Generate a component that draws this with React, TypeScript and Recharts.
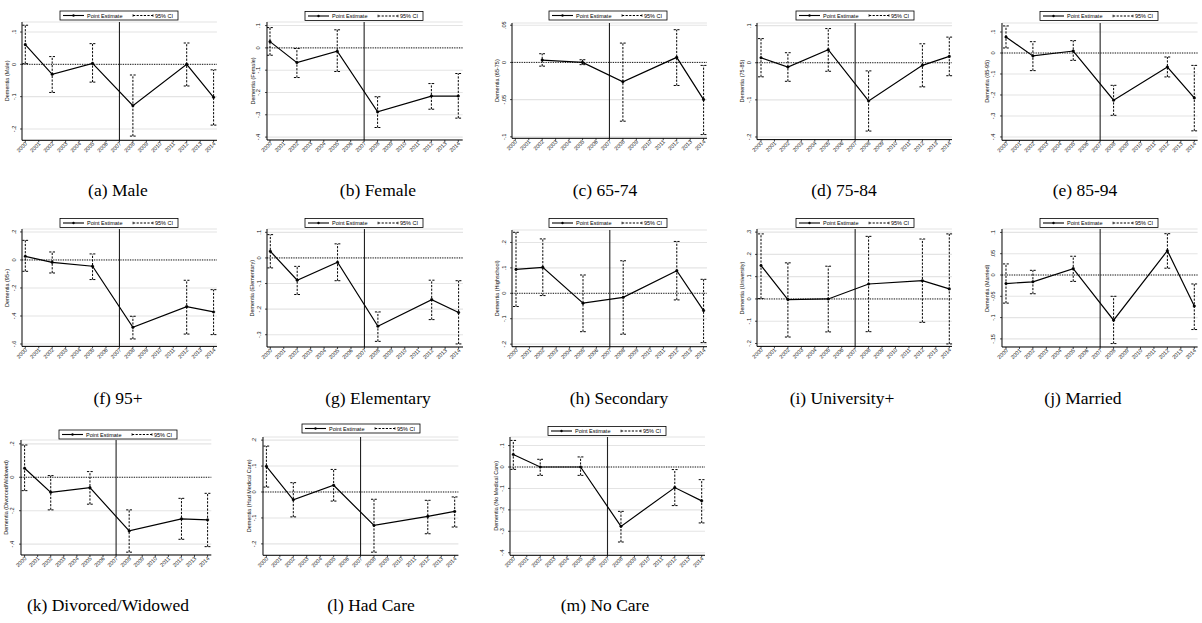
import React from 'react'
import { ComposedChart, Line, XAxis, YAxis, CartesianGrid, ReferenceLine, ErrorBar } from 'recharts'

const yearTicks = [2000, 2001, 2002, 2003, 2004, 2005, 2006, 2007, 2008, 2009, 2010, 2011, 2012, 2013, 2014]
const waves = [2000, 2002, 2005, 2008, 2012, 2014]
const wavesNo2000 = [2002, 2005, 2008, 2012, 2014]
const policyYear = 2007

const maleEst = [0.061, -0.031, 0.003, -0.128, 0.0, -0.102]
const maleLo = [0.002, -0.087, -0.055, -0.222, -0.067, -0.188]
const maleHi = [0.121, 0.024, 0.064, -0.033, 0.066, -0.017]

const femaleEst = [0.028, -0.066, -0.015, -0.287, -0.216, -0.216]
const femaleLo = [-0.033, -0.133, -0.106, -0.357, -0.275, -0.315]
const femaleHi = [0.091, -0.003, 0.081, -0.219, -0.16, -0.115]

const age6574Est = [0.0032, 0.0, -0.026, 0.0068, -0.05]
const age6574Lo = [-0.005, -0.003, -0.079, -0.031, -0.097]
const age6574Hi = [0.0117, 0.0036, 0.026, 0.044, -0.004]

const age7584Est = [0.0134, -0.0116, 0.035, -0.103, -0.007, 0.017]
const age7584Lo = [-0.038, -0.05, -0.023, -0.184, -0.065, -0.035]
const age7584Hi = [0.065, 0.027, 0.092, -0.022, 0.051, 0.069]

const age8594Est = [0.076, -0.014, 0.0095, -0.225, -0.067, -0.214]
const age8594Lo = [0.024, -0.084, -0.035, -0.297, -0.114, -0.371]
const age8594Hi = [0.129, 0.054, 0.059, -0.154, -0.019, -0.059]

const age95Est = [0.026, -0.017, -0.045, -0.481, -0.333, -0.371]
const age95Lo = [-0.081, -0.093, -0.14, -0.564, -0.529, -0.533]
const age95Hi = [0.14, 0.057, 0.043, -0.402, -0.145, -0.212]

const elemEst = [0.026, -0.087, -0.017, -0.267, -0.163, -0.213]
const elemLo = [-0.039, -0.143, -0.089, -0.326, -0.241, -0.336]
const elemHi = [0.091, -0.033, 0.055, -0.211, -0.087, -0.089]

const secEst = [0.094, 0.102, -0.039, -0.016, 0.089, -0.068]
const secLo = [-0.052, -0.009, -0.151, -0.161, -0.026, -0.194]
const secHi = [0.24, 0.214, 0.072, 0.128, 0.204, 0.055]

const uniEst = [0.15, -0.003, 0.0, 0.067, 0.082, 0.045]
const uniLo = [0.0015, -0.171, -0.148, -0.147, -0.105, -0.202]
const uniHi = [0.292, 0.162, 0.147, 0.281, 0.269, 0.292]

const marEst = [-0.02, -0.016, 0.015, -0.106, 0.057, -0.073]
const marLo = [-0.066, -0.044, -0.015, -0.161, 0.016, -0.128]
const marHi = [0.026, 0.011, 0.044, -0.05, 0.097, -0.021]

const divEst = [0.054, -0.09, -0.062, -0.321, -0.249, -0.255]
const divLo = [-0.08, -0.195, -0.161, -0.448, -0.371, -0.415]
const divHi = [0.193, 0.01, 0.034, -0.195, -0.126, -0.096]

const careEst = [0.099, -0.03, 0.026, -0.129, -0.094, -0.075]
const careLo = [0.019, -0.096, -0.035, -0.232, -0.161, -0.135]
const careHi = [0.177, 0.036, 0.087, -0.028, -0.032, -0.019]

const noCareEst = [0.058, 0.0, 0.0, -0.277, -0.096, -0.158]
const noCareLo = [-0.011, -0.039, -0.039, -0.35, -0.18, -0.261]
const noCareHi = [0.124, 0.036, 0.047, -0.207, -0.012, -0.059]

const panels = [
  { title: 'Dementia (Male)', caption: '(a) Male', waves, est: maleEst, lo: maleLo, hi: maleHi, ticks: [-0.2, -0.1, 0, 0.1], domain: [-0.235, 0.131] },
  { title: 'Dementia (Female)', caption: '(b) Female', waves, est: femaleEst, lo: femaleLo, hi: femaleHi, ticks: [-0.4, -0.3, -0.2, -0.1, 0, 0.1], domain: [-0.413, 0.116] },
  { title: 'Dementia (65-75)', caption: '(c) 65-74', waves: wavesNo2000, est: age6574Est, lo: age6574Lo, hi: age6574Hi, ticks: [-0.1, -0.05, 0, 0.05], domain: [-0.102, 0.053] },
  { title: 'Dementia (75-85)', caption: '(d) 75-84', waves, est: age7584Est, lo: age7584Lo, hi: age7584Hi, ticks: [-0.2, -0.1, 0, 0.1], domain: [-0.207, 0.107] },
  { title: 'Dementia (85-95)', caption: '(e) 85-94', waves, est: age8594Est, lo: age8594Lo, hi: age8594Hi, ticks: [-0.4, -0.3, -0.2, -0.1, 0, 0.1], domain: [-0.416, 0.143] },
  { title: 'Dementia (95+)', caption: '(f) 95+', waves, est: age95Est, lo: age95Lo, hi: age95Hi, ticks: [-0.6, -0.4, -0.2, 0, 0.2], domain: [-0.617, 0.221] },
  { title: 'Dementia (Elementary)', caption: '(g) Elementary', waves, est: elemEst, lo: elemLo, hi: elemHi, ticks: [-0.3, -0.2, -0.1, 0, 0.1], domain: [-0.348, 0.113] },
  { title: 'Dementia (Highschool)', caption: '(h) Secondary', waves, est: secEst, lo: secLo, hi: secHi, ticks: [-0.2, -0.1, 0, 0.1, 0.2], domain: [-0.21, 0.249] },
  { title: 'Dementia (University)', caption: '(i) University+', waves, est: uniEst, lo: uniLo, hi: uniHi, ticks: [-0.2, -0.1, 0, 0.1, 0.2, 0.3], domain: [-0.213, 0.314] },
  { title: 'Dementia (Married)', caption: '(j) Married', waves, est: marEst, lo: marLo, hi: marHi, ticks: [-0.15, -0.1, -0.05, 0, 0.05, 0.1], domain: [-0.169, 0.108] },
  { title: 'Dementia (Divorced/Widowed)', caption: '(k) Divorced/Widowed', waves, est: divEst, lo: divLo, hi: divHi, ticks: [-0.4, -0.2, 0, 0.2], domain: [-0.465, 0.223] },
  { title: 'Dementia (Had Medical Care)', caption: '(l) Had Care', waves, est: careEst, lo: careLo, hi: careHi, ticks: [-0.2, -0.1, 0, 0.1, 0.2], domain: [-0.244, 0.212] },
  { title: 'Dementia (No Medical Care)', caption: '(m) No Care', waves, est: noCareEst, lo: noCareLo, hi: noCareHi, ticks: [-0.4, -0.3, -0.2, -0.1, 0, 0.1], domain: [-0.412, 0.14] },
]

// plot box per panel: left axis, x of 2000, x of 2014, right edge, top, bottom; legend pos; caption center/top
const boxes = [
  { left: 21.7, x0: 25, x1: 213.3, right: 216.7, top: 21.7, bottom: 140, lx: 60, ly: 11, cx: 118, cy: 181 },
  { left: 267, x0: 270, x1: 458.3, right: 462.7, top: 22, bottom: 140, lx: 305, ly: 11.5, cx: 378, cy: 181 },
  { left: 511.7, x0: 515, x1: 703.3, right: 706.7, top: 23, bottom: 138.3, lx: 549, ly: 11, cx: 605, cy: 181 },
  { left: 756.7, x0: 760.7, x1: 949, right: 951.7, top: 22.7, bottom: 139.3, lx: 796, ly: 11, cx: 844, cy: 181 },
  { left: 1001.7, x0: 1005.7, x1: 1194, right: 1197.3, top: 22.7, bottom: 140, lx: 1040, ly: 11.5, cx: 1085, cy: 181 },
  { left: 21.7, x0: 25, x1: 213.3, right: 216.7, top: 229.3, bottom: 346.7, lx: 60, ly: 218.5, cx: 118, cy: 389 },
  { left: 266.7, x0: 270, x1: 458.3, right: 462.7, top: 229.3, bottom: 347.3, lx: 305, ly: 218.5, cx: 378, cy: 389 },
  { left: 511.7, x0: 515.7, x1: 703.3, right: 706.7, top: 230, bottom: 346.7, lx: 549, ly: 218.5, cx: 619, cy: 389 },
  { left: 756.7, x0: 760.7, x1: 949, right: 951.7, top: 229.3, bottom: 346.7, lx: 796, ly: 218.5, cx: 842, cy: 389 },
  { left: 1001.7, x0: 1005.7, x1: 1194, right: 1197.3, top: 229.3, bottom: 347.3, lx: 1040, ly: 218.5, cx: 1083, cy: 389 },
  { left: 20.7, x0: 24.3, x1: 207.3, right: 211, top: 440, bottom: 555, lx: 59, ly: 430, cx: 108, cy: 596 },
  { left: 263.3, x0: 266.7, x1: 455, right: 458.7, top: 436.7, bottom: 555, lx: 302, ly: 424, cx: 371, cy: 596 },
  { left: 510, x0: 513.3, x1: 701.7, right: 705, top: 436.7, bottom: 555, lx: 548, ly: 426.5, cx: 605, cy: 596 },
]

const AXW = 24
const AXH = 24
const sans = 'Liberation Sans, Arial, sans-serif'

const fmt = (v: number) => {
  if (v === 0) return '0'
  return (v < 0 ? '-' : '') + String(Math.abs(v)).replace(/^0/, '')
}

function XTick(props: any) {
  const { x, y, payload } = props
  return (
    <g transform={`translate(${x + 0.8},${y + 0.5})`}>
      <text transform="rotate(-45)" textAnchor="end" dy={2} fontSize={5.5} fontFamily={sans} fill="#111">
        {payload.value}
      </text>
    </g>
  )
}

function YTick(props: any) {
  const { y, payload } = props
  return (
    <g transform={`translate(${AXW - 6.5},${y})`}>
      <text transform="rotate(-90)" textAnchor="middle" fontSize={5.6} fontFamily={sans} fill="#111">
        {fmt(payload.value)}
      </text>
    </g>
  )
}

function Legend({ x, y }: { x: number; y: number }) {
  const m = y + 4.5
  return (
    <g>
      <rect x={x} y={y} width={118} height={9} fill="#fff" stroke="#000" strokeWidth={0.8} />
      <line x1={x + 3} x2={x + 24} y1={m} y2={m} stroke="#000" strokeWidth={1.1} />
      <circle cx={x + 13.5} cy={m} r={1.2} fill="#000" />
      <text x={x + 27} y={m + 2} fontSize={5.5} fontFamily={sans}>Point Estimate</text>
      <line x1={x + 73} x2={x + 93} y1={m} y2={m} stroke="#000" strokeWidth={1.1} strokeDasharray="2.2 1.4" />
      <line x1={x + 73} x2={x + 73} y1={m - 1.3} y2={m + 1.3} stroke="#000" strokeWidth={0.7} />
      <line x1={x + 93} x2={x + 93} y1={m - 1.3} y2={m + 1.3} stroke="#000" strokeWidth={0.7} />
      <text x={x + 95} y={m + 2} fontSize={5.5} fontFamily={sans}>95% CI</text>
    </g>
  )
}

function Panel({ p, b }: { p: any; b: any }) {
  const data = p.waves.map((year: number, i: number) => ({
    year,
    est: p.est[i],
    err: [p.est[i] - p.lo[i], p.hi[i] - p.est[i]],
  }))
  const chartLeft = b.left - AXW
  const chartTop = b.top - 2
  const width = b.right + 4 - chartLeft
  const height = b.bottom + AXH - chartTop
  return (
    <div style={{ position: 'absolute', left: chartLeft, top: chartTop }}>
      <ComposedChart width={width} height={height} data={data} margin={{ top: 2, right: 4, bottom: 0, left: 0 }} style={{ overflow: 'visible' }}>
        <CartesianGrid horizontal vertical={false} stroke="#e4e4e4" strokeWidth={1.1} />
        <XAxis
          type="number"
          dataKey="year"
          domain={[2000, 2014]}
          ticks={yearTicks}
          interval={0}
          padding={{ left: b.x0 - b.left, right: b.right - b.x1 }}
          height={AXH}
          tickSize={2}
          tickMargin={0}
          tick={<XTick />}
          axisLine={{ stroke: '#000', strokeWidth: 1 }}
          tickLine={{ stroke: '#000', strokeWidth: 0.7 }}
        />
        <YAxis
          type="number"
          domain={p.domain}
          allowDataOverflow
          ticks={p.ticks}
          interval={0}
          width={AXW}
          tickSize={2}
          tick={<YTick />}
          axisLine={{ stroke: '#000', strokeWidth: 1 }}
          tickLine={{ stroke: '#000', strokeWidth: 0.7 }}
        />
        <ReferenceLine y={0} stroke="#000" strokeWidth={0.9} strokeDasharray="1.2 1.2" />
        <ReferenceLine x={policyYear} stroke="#222" strokeWidth={1.1} />
        <Line type="linear" dataKey="est" stroke="#000" strokeWidth={1.2} isAnimationActive={false}
          dot={{ r: 1.3, fill: '#000', stroke: '#000', strokeWidth: 0.4 }}>
          <ErrorBar dataKey="err" direction="y" width={3} stroke="#000" strokeWidth={1} strokeDasharray="2.2 1.4" isAnimationActive={false} />
        </Line>
      </ComposedChart>
    </div>
  )
}

export default function App() {
  return (
    <div style={{ position: 'absolute', left: 0, top: 0, width: 1202, height: 623, background: '#fff', overflow: 'hidden' }}>
      {panels.map((p, i) => (
        <Panel key={i} p={p} b={boxes[i]} />
      ))}
      <svg width={1202} height={623} style={{ position: 'absolute', left: 0, top: 0, pointerEvents: 'none' }}>
        {panels.map((p, i) => {
          const b = boxes[i]
          const tx = b.left - 12.5
          const ty = (b.top + b.bottom) / 2
          return (
            <g key={i}>
              <Legend x={b.lx} y={b.ly} />
              <text transform={`translate(${tx},${ty}) rotate(-90)`} textAnchor="middle" fontSize={5.5} fontFamily={sans} fill="#111">
                {p.title}
              </text>
            </g>
          )
        })}
      </svg>
      {panels.map((p, i) => (
        <div key={i} style={{ position: 'absolute', left: boxes[i].cx, top: boxes[i].cy, transform: 'translateX(-50%)', fontFamily: 'Liberation Serif, serif', fontSize: 17.5, lineHeight: '18px', whiteSpace: 'nowrap', color: '#000' }}>
          {p.caption}
        </div>
      ))}
    </div>
  )
}
